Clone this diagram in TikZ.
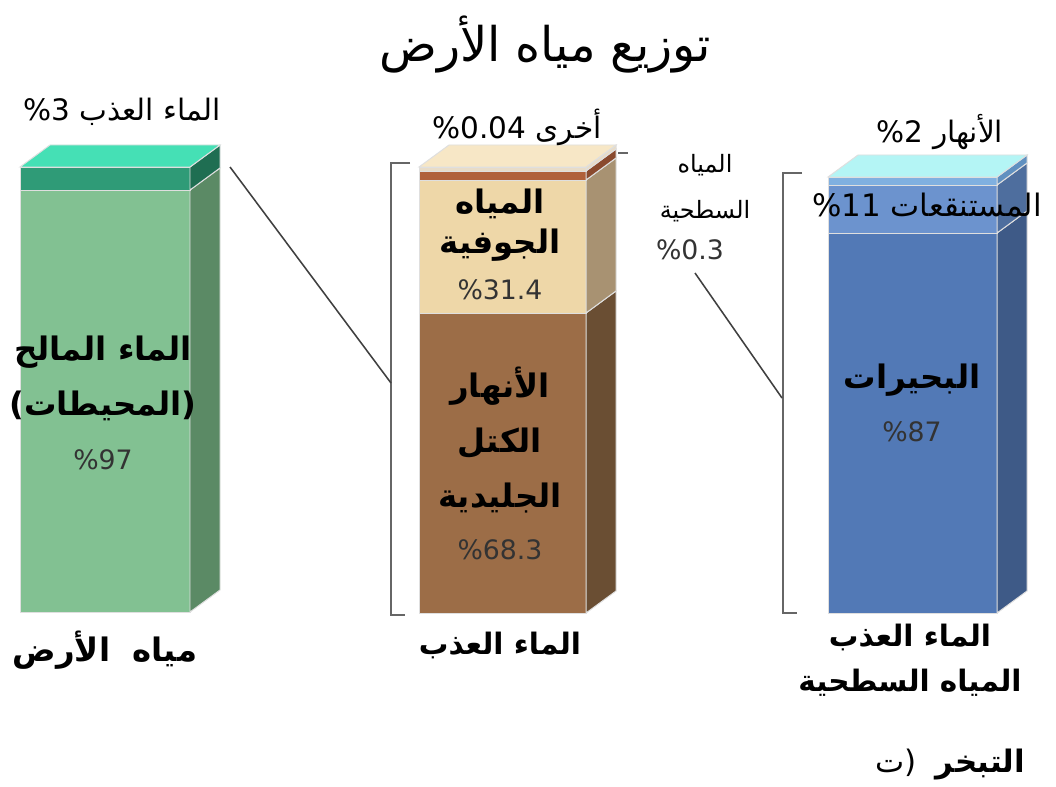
\documentclass[tikz,border=0pt]{standalone}
\usepackage{fontspec}
\setmainfont{DejaVu Sans}
\newfontfamily\arabicfont[Script=Arabic]{DejaVu Sans}
\TeXXeTstate=1
\newcommand{\arb}[1]{{\arabicfont\beginR #1\endR}}
\definecolor{grntop}{RGB}{69,224,181}
\definecolor{grnband}{RGB}{47,155,119}
\definecolor{grnbandside}{RGB}{31,110,82}
\definecolor{grnfront}{RGB}{130,193,146}
\definecolor{grnside}{RGB}{91,138,101}
\definecolor{cream}{RGB}{247,231,198}
\definecolor{creamedge}{RGB}{232,220,200}
\definecolor{rustfront}{RGB}{176,96,58}
\definecolor{rustside}{RGB}{138,74,46}
\definecolor{tanfront}{RGB}{238,215,168}
\definecolor{tanside}{RGB}{168,146,114}
\definecolor{brnfront}{RGB}{156,109,71}
\definecolor{brnside}{RGB}{106,78,51}
\definecolor{cyantop}{RGB}{180,245,245}
\definecolor{skyfront}{RGB}{128,176,224}
\definecolor{skyside}{RGB}{96,144,192}
\definecolor{midfront}{RGB}{108,147,206}
\definecolor{midside}{RGB}{78,110,158}
\definecolor{bluefront}{RGB}{82,121,182}
\definecolor{blueside}{RGB}{62,90,135}
\newcommand{\slab}[6]{%
  \filldraw[edge,fill=#5] (#1,#3) rectangle (#2,#4);
  \filldraw[edge,fill=#6] (#2,#3) -- (#2+30,#3-22) -- (#2+30,#4-22) -- (#2,#4) -- cycle;}
\newcommand{\lid}[4]{%
  \filldraw[edge,fill=#4] (#1,#3) -- (#1+30,#3-22) -- (#2+30,#3-22) -- (#2,#3) -- cycle;}
\tikzset{
  edge/.style={draw=gray!25,line width=0.7pt},
  bracket/.style={draw=gray!80!black,line width=1.3pt},
  leader/.style={draw=black!75,line width=1.1pt},
  titlelbl/.style={font=\fontsize{34}{40}\selectfont},
  toplbl/.style={font=\fontsize{21}{25}\selectfont},
  arlbl/.style={font=\fontsize{23}{39}\selectfont\bfseries,align=center},
  pctlbl/.style={font=\fontsize{19}{23}\selectfont,text=black!80},
  footlbl/.style={font=\fontsize{21}{32}\selectfont\bfseries,align=center}
}
\begin{document}
\begin{tikzpicture}[x=0.025cm,y=-0.025cm]
  \useasboundingbox[fill=white] (0,0) rectangle (1056,787);
  \node[titlelbl] (title) at (545,45) {\arb{توزيع مياه الأرض}};
  % earth water
  \slab{20}{190}{190}{612}{grnfront}{grnside}
  \slab{20}{190}{167}{190}{grnband}{grnbandside}
  \lid{20}{190}{167}{grntop}
  \node[toplbl] (fresh) at (122,112) {\%3 \arb{الماء العذب}};
  \node[arlbl] (salt) at (103,378) {\arb{الماء المالح}\\(\arb{المحيطات})};
  \node[pctlbl] (saltpct) at (103,460) {\%97};
  \node[footlbl,font=\fontsize{23}{32}\selectfont\bfseries] (earth) at (105,650) {\arb{مياه\ \ الأرض}};
  % fresh water
  \slab{419}{586}{313}{613}{brnfront}{brnside}
  \slab{419}{586}{180}{313}{tanfront}{tanside}
  \slab{419}{586}{171}{180}{rustfront}{rustside}
  \slab{419}{586}{167}{171}{creamedge}{creamedge}
  \lid{419}{586}{167}{cream}
  \draw[bracket] (618,153) -- (628,153);
  \node[toplbl] (other) at (517,127) {\%0.04 \arb{أخرى}};
  \node[arlbl,font=\fontsize{23}{28}\selectfont\bfseries] (ground) at (500,225) {\arb{المياه}\\\arb{الجوفية}};
  \node[pctlbl] (groundpct) at (500,290) {\%31.4};
  \node[arlbl] (ice) at (500,440) {\arb{الأنهار}\\\arb{الكتل}\\\arb{الجليدية}};
  \node[pctlbl] (icepct) at (500,550) {\%68.3};
  \node[footlbl] (freshft) at (500,645) {\arb{الماء العذب}};
  \draw[bracket] (410,163) -- (391,163) -- (391,615) -- (405,615);
  \coordinate (grnedge) at (230,167);
  \coordinate (bkMmid) at (391,383);
  \draw[leader] (grnedge) -- (bkMmid);
  % surface water
  \slab{828}{997}{233}{613}{bluefront}{blueside}
  \slab{828}{997}{185}{233}{midfront}{midside}
  \slab{828}{997}{177}{185}{skyfront}{skyside}
  \lid{828}{997}{177}{cyantop}
  \node[toplbl] (river) at (940,132) {\%2 \arb{الأنهار}};
  \node[toplbl,font=\fontsize{22}{26}\selectfont] (swamp) at (927,205) {\%11 \arb{المستنقعات}};
  \node[arlbl] (lakes) at (912,380) {\arb{البحيرات}};
  \node[pctlbl] (lakespct) at (912,432) {\%87};
  \node[footlbl] (surfft) at (910,660) {\arb{الماء العذب}\\\arb{المياه السطحية}};
  \node[toplbl,align=center,font=\fontsize{17}{33}\selectfont] (surf) at (705,188) {\arb{المياه}\\\arb{السطحية}};
  \node[pctlbl] (surfpct) at (690,250) {\%0.3};
  \draw[bracket] (802,173) -- (783,173) -- (783,613) -- (797,613);
  \coordinate (surfend) at (695,273);
  \coordinate (bkRmid) at (782,398);
  \draw[leader] (surfend) -- (bkRmid);
  \node[footlbl,font=\fontsize{22}{26}\selectfont\bfseries] (evap) at (950,765) {\mdseries\arb{ت})\ \ \bfseries\arb{التبخر}};
\end{tikzpicture}
\end{document}
